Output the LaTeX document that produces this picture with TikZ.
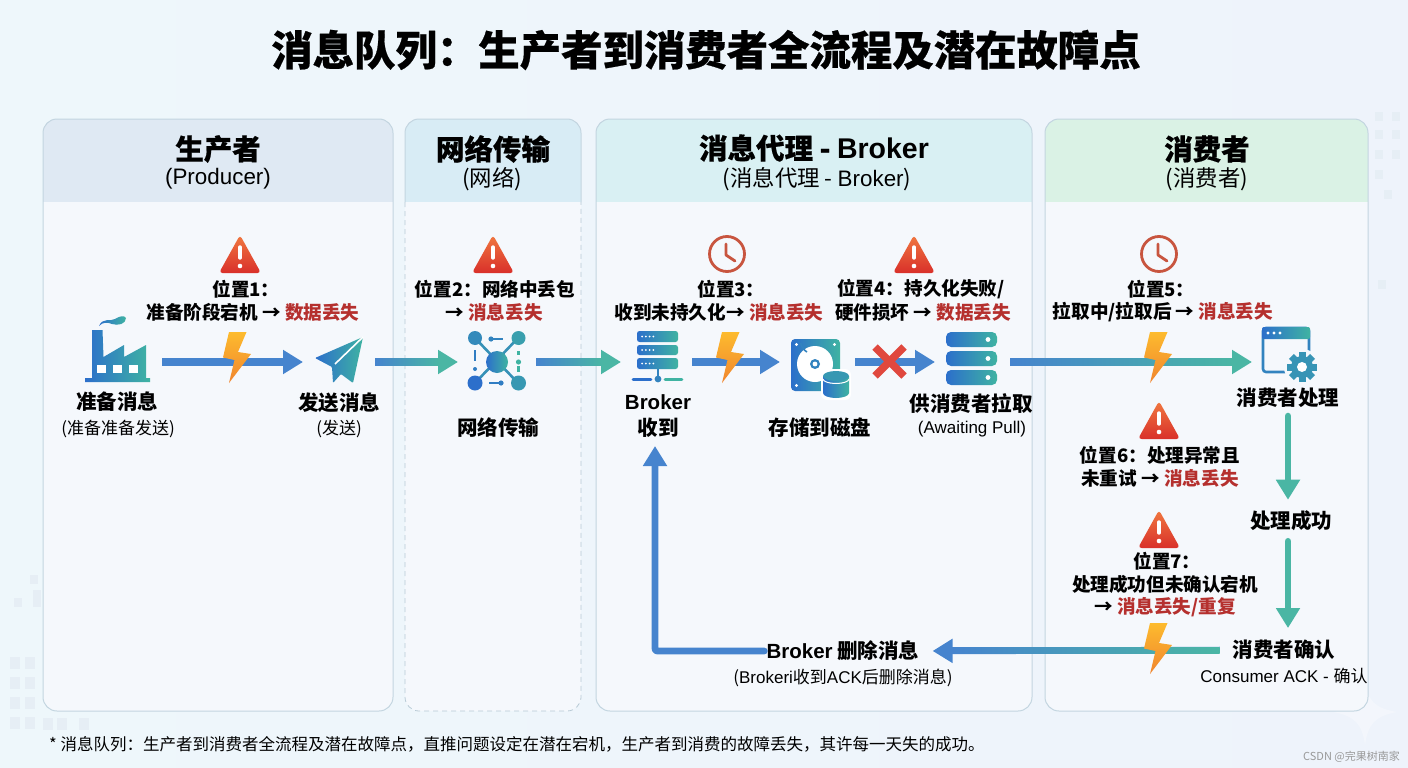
\documentclass[tikz,border=0pt]{standalone}
\usepackage{fontspec}
\setmainfont{Noto Sans CJK SC}
\newfontfamily\lat{Liberation Sans}
\newfontfamily\heavy{Noto Sans CJK SC}[BoldFeatures={FakeBold=0.5}]
\usetikzlibrary{arrows.meta,calc}
\definecolor{bgA}{HTML}{EEF7FB}
\definecolor{bgB}{HTML}{EEF3FB}
\definecolor{bodyc}{HTML}{F5F8FC}
\definecolor{edgec}{HTML}{C3D5E0}
\definecolor{dashc}{HTML}{B8CAD5}
\definecolor{hdA}{HTML}{DFE9F3}
\definecolor{hdB}{HTML}{D8ECF5}
\definecolor{hdC}{HTML}{D9F0F3}
\definecolor{hdD}{HTML}{DAF2E5}
\definecolor{flowB}{HTML}{4684CE}
\definecolor{flowT}{HTML}{4AB6A4}
\definecolor{icoA}{HTML}{2C6FCB}
\definecolor{icoB}{HTML}{3FB3A2}
\definecolor{lossred}{HTML}{B5302E}
\definecolor{warnA}{HTML}{F07840}
\definecolor{warnB}{HTML}{D9302A}
\definecolor{clockc}{HTML}{C8553F}
\definecolor{boltA}{HTML}{FDBB2E}
\definecolor{boltB}{HTML}{F0852E}
\definecolor{crossc}{HTML}{E0483E}
\definecolor{faintc}{HTML}{E6EEF5}
\newcommand\loss[1]{\textcolor{lossred}{#1}}
\newcommand\panel[4]{%
  \fill[bodyc,rounded corners=14pt] (#1,119) rectangle (#2,711);
  \begin{scope}
    \clip[rounded corners=14pt] (#1,119) rectangle (#2,711);
    \fill[#3] (#1,119) rectangle (#2,202);
  \end{scope}
  \ifx#4d\relax
    \draw[dashc,line width=.8pt,rounded corners=14pt,dash pattern=on 5pt off 4pt] (#1,202) -- (#1,711) -- (#2,711) -- (#2,202);
    \draw[edgec,rounded corners=14pt,line width=1pt] (#1,202) -- (#1,119) -- (#2,119) -- (#2,202);
  \else
    \draw[edgec,rounded corners=14pt,line width=1pt] (#1,119) rectangle (#2,711);
  \fi}
\newcommand\warnsign[2]{%
  \begin{scope}[shift={(#1,#2)}]
    \shade[top color=warnA,bottom color=warnB,rounded corners=3.5pt] (0,-3) -- (21,35) -- (-21,35) -- cycle;
    \draw[white,line width=3.4pt,line cap=round] (0,9) -- (0,20);
    \fill[white] (0,28) circle (2.3pt);
  \end{scope}}
\newcommand\clockicon[2]{%
  \draw[clockc,line width=2.8pt] (#1,#2) circle (17.5pt);
  \draw[clockc,line width=2.8pt,line cap=round,line join=round] ($(#1,#2)+(-1,-10)$) -- ($(#1,#2)+(-1,1)$) -- ($(#1,#2)+(8,7)$);}
\newcommand\bolticon[2]{%
  \begin{scope}[shift={(#1,#2)}]
    \shade[top color=boltA,bottom color=boltB] (6,0) -- (23.5,0) -- (15,20) -- (28,22) -- (6,51) -- (11.5,28) -- (0,25.5) -- cycle;
  \end{scope}}
\newcommand\hflow[4]{%
  \draw[flowline,draw=#4,line cap=butt] (#1) -- (#2);
  \shade[left color=#3,right color=#4] ($(#1)+(0,-3.3)$) rectangle ($(#2)+(-19,3.3)$);}
\tikzset{
  iconbox/.style={minimum height=20pt,inner sep=0pt,outer sep=0pt},
  flowline/.style={line width=6.6pt,line cap=round,line join=round,-{Triangle[length=20pt,width=23pt]}},
  ttl/.style={inner sep=0pt,font=\heavy\bfseries\fontsize{41.4}{46}\selectfont},
  hd/.style={inner sep=0pt,font=\heavy\bfseries\fontsize{28.5}{32}\selectfont},
  sub/.style={inner sep=0pt,font=\fontsize{22.4}{26}\selectfont},
  lbl/.style={inner sep=0pt,font=\bfseries\fontsize{20.5}{24}\selectfont},
  small/.style={inner sep=0pt,font=\fontsize{17}{20}\selectfont},
  note/.style={inner sep=0pt,font=\bfseries\fontsize{18.6}{22}\selectfont},
  ico/.style={left color=icoA,right color=icoB},
}
\begin{document}
\begin{tikzpicture}[x=1pt,y=-1pt]
\useasboundingbox (0,0) rectangle (1408,768);
\shade[left color=bgA,right color=bgB] (0,0) rectangle (1408,768);
% faint decoration
\foreach \yy in {657,677,697,717}
  \foreach \xx in {10,25} \fill[faintc] (\xx,\yy) rectangle ++(10,12);
\foreach \xx in {43,57,79} \fill[faintc] (\xx,718) rectangle ++(10,12);
\foreach \xx/\yy in {1375/112,1392/112,1375/130,1392/130,1375/150,1392/150,1375/170,1384/190,1378/280,30/575,33/590,14/598,33/598} \fill[faintc] (\xx,\yy) rectangle ++(8,9);
\fill[white,opacity=.3] (1365,680) .. controls (1368,702) and (1375,708) .. (1397,712) .. controls (1375,716) and (1368,724) .. (1365,745) .. controls (1362,724) and (1355,716) .. (1333,712) .. controls (1355,708) and (1362,702) .. (1365,680) -- cycle;
% panels
\panel{43}{393}{hdA}{s}
\panel{405}{581}{hdB}{d}
\panel{596}{1032}{hdC}{s}
\panel{1045}{1368}{hdD}{s}
% title
\node[ttl] (title) at (706,50) {消息队列：生产者到消费者全流程及潜在故障点};
% headers
\node[hd] (h1) at (218,149) {生产者};
\node[sub] (h1s) at (218,179) {\lat (Producer)};
\node[hd] (h2) at (493,149) {网络传输};
\node[sub] (h2s) at (492,179) {(网络)};
\node[hd] (h3) at (814,148) {消息代理 - {\lat Broker}};
\node[sub] (h3s) at (817,179) {(消息代理 - {\lat Broker})};
\node[hd] (h4) at (1207,149) {消费者};
\node[sub] (h4s) at (1207,179) {(消费者)};
% icon anchor nodes (width spans gap between arrows)
\node[iconbox,minimum width=88pt] (factory) at (118,362) {};
\node[iconbox,minimum width=72pt] (send) at (339,362) {};
\node[iconbox,minimum width=78pt] (net) at (497,362) {};
\node[iconbox,minimum width=71pt] (brk) at (656.5,362) {};
\node[iconbox,minimum width=75pt] (disk) at (817.5,362) {};
\node[iconbox,minimum width=75pt] (stack) at (972.5,362) {};
\node[iconbox,minimum width=72pt] (win) at (1288,362) {};
% labels
\node[lbl] (l1) at (117,402) {准备消息};
\node[small] (l1s) at (118,429) {(准备准备发送)};
\node[lbl] (l2) at (339,403) {发送消息};
\node[small] (l2s) at (339,429) {(发送)};
\node[lbl] (l3) at (498,428) {网络传输};
\node[lbl] (l4a) at (658,402) {\lat Broker};
\node[lbl] (l4) at (658,428) {收到};
\node[lbl] (l5) at (820,428) {存储到磁盘};
\node[lbl] (l6) at (971,404) {供消费者拉取};
\node[small] (l6s) at (972,429) {\lat (Awaiting Pull)};
\node[lbl] (c1) at (1288,398) {消费者处理};
\node[lbl] (c2) at (1291,521) {处理成功};
\node[lbl] (c3) at (1284,650) {消费者确认};
\node[small] (c3s) at (1284,676) {{\lat Consumer ACK - }确认};
\node[lbl] (del) at (843,651) {{\lat Broker} 删除消息};
\node[small] (dels) at (843,678) {({\lat Brokeri}收到{\lat ACK}后删除消息)};
% connectors
\hflow{factory.east}{send.west}{flowB}{flowB}
\hflow{send.east}{net.west}{flowB}{flowT}
\hflow{net.east}{brk.west}{flowB}{flowT}
\hflow{brk.east}{disk.west}{flowB}{flowB}
\hflow{disk.east}{stack.west}{flowB}{flowB}
\hflow{stack.east}{win.west}{flowB}{flowT}
\draw[flowline,draw=flowT,shorten <=8pt,shorten >=11pt] (c1.south) -- (c1.south |- c2.north);
\draw[flowline,draw=flowT,shorten <=10pt,shorten >=12pt] (c2.south -| c1.south) -- (c3.north -| c1.south);
\draw[flowline,draw=flowB,line cap=butt,shorten <=13pt,shorten >=13pt] (c3.west) -- (del.east);
\shade[left color=flowB,right color=flowT] ($(del.east)+(32,-3.3)$) rectangle ($(c3.west)+(-13,3.3)$);
\draw[flowline,draw=flowB,shorten <=2pt,shorten >=8pt,rounded corners=2pt] (del.west) -| ($(l4.south)+(-3,0)$);
% factory
\shade[ico] (92,378) -- (92,330) -- (102.5,330) -- (103.5,357) -- (124,345) -- (124,357) -- (146,345) -- (146,378) -- (150,378) -- (150,382) -- (85,382) -- (85,378) -- cycle;
\foreach \xx in {97,113,129} \fill[white] (\xx,365) rectangle ++(9,8);
\shade[ico] (99,326) .. controls (103,317) and (110,322) .. (115,319) .. controls (120,316) and (124,315) .. (126,318) .. controls (126,324) and (118,326) .. (112,324) .. controls (107,322) and (103,322) .. (99,326) -- cycle;
% plane
\shade[ico,rounded corners=1pt] (315,358) -- (363,337) -- (353,383) -- (341,374) -- (333,383) -- (332,367) -- cycle;
\draw[white,line width=1.6pt] (363,337) -- (335,364);
% network
\begin{scope}
\draw[icoA!50!icoB,line width=2.6pt] (475,338) -- (518,383) (518,338) -- (475,383);
\fill[icoA!60!icoB] (475,338) circle (7pt);
\fill[icoB!70!icoA] (518.5,338) circle (7pt);
\fill[icoA] (475,383) circle (7.5pt);
\fill[icoB!60!icoA] (518.5,383) circle (7.5pt);
\shade[ico] (497,362) circle (11pt);
\draw[icoA!70!icoB,line width=2.4pt] (491,339) -- (503,339);
\fill[icoA!70!icoB] (491,339) circle (2.6pt);
\draw[icoA!80!icoB,line width=2.4pt] (489,383) -- (501,383);
\fill[icoA!80!icoB] (501,383) circle (2.6pt);
\draw[icoA!80!icoB,line width=2.4pt] (475,350) -- (475,361);
\fill[icoA!80!icoB] (475,369) circle (2pt);
\fill[icoB] (518.5,362) circle (2.6pt);
\draw[icoB,line width=2.2pt] (518.5,351) -- (518.5,355) (518.5,366) -- (518.5,372);
\end{scope}
% server
\foreach \ya/\yb in {331/342,345/355,358/369} {
  \shade[ico,rounded corners=2.5pt] (637,\ya) rectangle (678,\yb);
  \foreach \dx in {0,1,2,3} \fill[white] ({642+\dx*3.8},{(\ya+\yb)/2}) circle (1pt);
}
\draw[icoA!70!icoB,line width=2pt] (658,369) -- (658,378);
\fill[icoA!70!icoB] (658,379) circle (3.4pt);
\draw[icoA,line width=2.6pt,line cap=round] (633,379.5) -- (651,379.5);
\draw[icoB,line width=2.6pt,line cap=round] (665,379.5) -- (682,379.5);
% disk
\shade[ico,rounded corners=4pt] (791,339) rectangle (840,391);
\foreach \xx/\yy in {796.5/344.5,834.5/344.5,796.5/385.5} \fill[white] (\xx,\yy) circle (1.7pt);
\fill[white] (815,364) circle (18pt);
\fill[icoA!70!icoB] (815,364) circle (5pt);
\fill[white] (815,364) circle (2.4pt);
\draw[icoA!70!icoB,line width=1.6pt] (807,352) arc (240:190:13pt);
\fill[white,rounded corners=6pt] (821,369) rectangle (851,400);
\shade[ico] (823,376) -- (823,393) arc (180:360:13pt and 5pt) -- (849,376) -- cycle;
\fill[icoB!60!icoA] (836,376) ellipse (13pt and 5pt);
\draw[white,line width=1pt] (823,379) arc (180:360:13pt and 4.5pt);
% stack
\foreach \ya in {332,351,370} {
  \shade[ico,rounded corners=5pt] (946,\ya) rectangle (997,{\ya+15});
  \fill[white] (988,{\ya+7.5}) circle (2.4pt);
}
% window with gear
\draw[icoA!70!icoB,line width=2.6pt,rounded corners=3pt] (1309,353) -- (1309,328) -- (1263,328) -- (1263,372) -- (1287,372);
\shade[ico,rounded corners=2pt] (1262,327) rectangle (1310,339);
\foreach \xx in {1268,1274,1280} \fill[white] (\xx,333) circle (1.6pt);
\fill[bodyc] (1302,367) circle (18pt);
\foreach \aa in {0,45,...,315}
  \fill[icoA!45!icoB,rotate around={\aa:(1302,367)}] (1298.5,352) rectangle (1305.5,358);
\fill[icoA!45!icoB] (1302,367) circle (11pt);
\fill[white] (1302,367) circle (5pt);
% warnings and clocks
\warnsign{240}{238}
\warnsign{493}{238}
\clockicon{727}{254}
\warnsign{914}{238}
\clockicon{1159}{254}
\warnsign{1159}{404}
\warnsign{1159}{513}
% bolts and cross
\bolticon{223}{332}
\bolticon{716}{332}
\bolticon{1144}{332}
\bolticon{1144}{623}
\draw[crossc,line width=7.5pt] (875,347) -- (904,376) (904,347) -- (875,376);
% notes
\node[note] (n1a) at (246,289) {位置1：};
\node[note] (n1b) at (253,312) {准备阶段宕机 → \loss{数据丢失}};
\node[note] (n2a) at (495,289) {位置2：网络中丢包};
\node[note] (n2b) at (494,312) {→ \loss{消息丢失}};
\node[note] (n3a) at (731,289) {位置3：};
\node[note] (n3b) at (719,312) {收到未持久化→ \loss{消息丢失}};
\node[note] (n4a) at (921,289) {位置4：持久化失败/};
\node[note] (n4b) at (923,312) {硬件损坏 → \loss{数据丢失}};
\node[note] (n5a) at (1161,289) {位置5：};
\node[note] (n5b) at (1163,312) {拉取中/拉取后 → \loss{消息丢失}};
\node[note] (n6a) at (1160,455) {位置6：处理异常且};
\node[note] (n6b) at (1160,478) {未重试 → \loss{消息丢失}};
\node[note] (n7a) at (1167,561) {位置7：};
\node[note] (n7b) at (1165,584) {处理成功但未确认宕机};
\node[note] (n7c) at (1165,607) {→ \loss{消息丢失/重复}};
% footnote
\node[anchor=west,inner sep=0pt,font=\fontsize{16.5}{19}\selectfont] (foot) at (49,744) {* 消息队列：生产者到消费者全流程及潜在故障点，直推问题设定在潜在宕机，生产者到消费的故障丢失，其许每一天失的成功。};
\node[anchor=east,inner sep=0pt,text=black!40,font=\fontsize{11}{13}\selectfont] (mark) at (1400,757) {CSDN @完果树南家};
\end{tikzpicture}
\end{document}
